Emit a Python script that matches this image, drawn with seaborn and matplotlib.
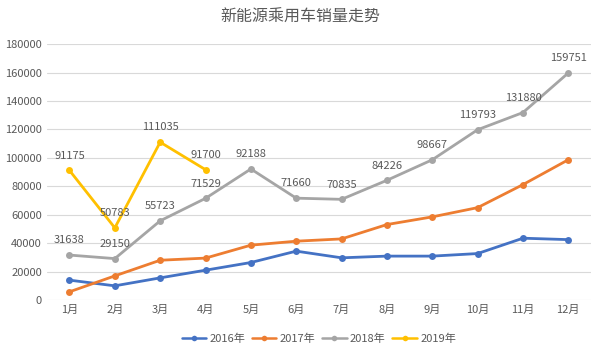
import numpy as np
import pandas as pd
import matplotlib
matplotlib.use("Agg")
import matplotlib.pyplot as plt
import seaborn as sns

months = ["1月", "2月", "3月", "4月", "5月", "6月", "7月", "8月", "9月", "10月", "11月", "12月"]
s2016 = [14000, 10000, 15600, 21000, 26400, 34400, 29700, 30900, 30900, 32700, 43500, 42500]
s2017 = [5800, 17000, 28000, 29500, 38600, 41400, 43000, 53100, 58500, 65000, 81200, 98700]
s2018 = [31638, 29150, 55723, 71529, 92188, 71660, 70835, 84226, 98667, 119793, 131880, 159751]
s2019 = [91175, 50783, 111035, 91700]

series = {"2016年": s2016, "2017年": s2017, "2018年": s2018, "2019年": s2019}
colors = ["#4472C4", "#ED7D31", "#A5A5A5", "#FFC000"]

rows = []
for name, vals in series.items():
    for i, v in enumerate(vals):
        rows.append({"month": i, "value": v, "year": name})
df = pd.DataFrame(rows)

sns.set_style("white")
plt.rcParams['font.family'] = ['Noto Sans CJK SC', 'DejaVu Sans']

fig = plt.figure(figsize=(6, 3.53), dpi=100)
ax = fig.add_axes([0.078, 0.150, 0.907, 0.725])

sns.lineplot(data=df, x="month", y="value", hue="year", palette=colors,
             marker="o", markersize=5, markeredgewidth=0, linewidth=2,
             sort=False, ax=ax)

# data labels for 2018 and 2019
for name in ["2018年", "2019年"]:
    for i, v in enumerate(series[name]):
        ax.annotate(str(v), (i, v), xytext=(0, 7), textcoords="offset points",
                    ha="center", va="bottom", fontsize=8, color="#595959")

ax.set_xlim(-0.5, 11.5)
ax.set_ylim(0, 180000)
ax.set_yticks(range(0, 180001, 20000))
ax.set_yticklabels([str(t) for t in range(0, 180001, 20000)])
ax.set_xticks(range(12))
ax.set_xticklabels(months)
ax.tick_params(axis="both", labelsize=8, colors="#595959", length=0)
ax.yaxis.grid(True, color="#D9D9D9", linewidth=0.8)
ax.xaxis.grid(False)
for sp in ax.spines.values():
    sp.set_visible(False)
ax.set_xlabel("")
ax.set_ylabel("")

fig.suptitle("新能源乘用车销量走势", y=0.975, fontsize=11.5, color="#595959")

handles, labels = ax.get_legend_handles_labels()
for h in handles:
    h.set_linewidth(1.8)
    h.set_markersize(4)
ax.legend(handles, labels, loc="center", bbox_to_anchor=(0.5, -0.15),
          ncol=4, frameon=False, fontsize=8, handlelength=2.2,
          columnspacing=0.6, handletextpad=0.3, labelcolor="#595959")

fig.savefig("out.png", dpi=100)
